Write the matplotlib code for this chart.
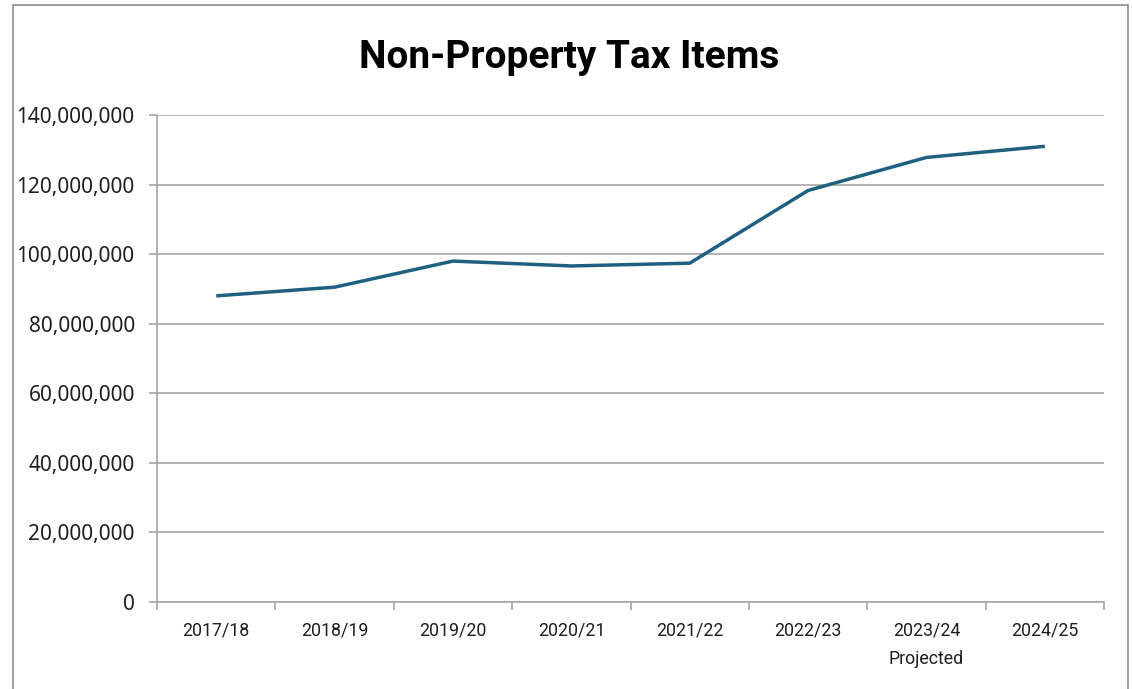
import matplotlib.pyplot as plt
from matplotlib.patches import Rectangle
from matplotlib.ticker import FuncFormatter

# data
years = ['2017/18', '2018/19', '2019/20', '2020/21', '2021/22', '2022/23', '2023/24\nProjected', '2024/25']
revenue = [88.0e6, 90.5e6, 98.0e6, 96.6e6, 97.4e6, 118.3e6, 127.8e6, 131.0e6]
y_ticks = [0, 20e6, 40e6, 60e6, 80e6, 100e6, 120e6, 140e6]

plt.rcParams['font.family'] = ['Roboto', 'DejaVu Sans']

fig = plt.figure(figsize=(11.32, 6.89), dpi=100)
ax = fig.add_axes([0.1387, 0.1263, 0.8366, 0.7068])

x = list(range(len(years)))
ax.plot(x, revenue, color='#1f6080', linewidth=2.5, solid_capstyle='butt')

ax.set_xlim(-0.5, len(years) - 0.5)
ax.set_ylim(0, 140e6)
ax.set_yticks(y_ticks)
ax.yaxis.set_major_formatter(FuncFormatter(lambda v, p: f'{int(v):,}'))
ax.grid(axis='y', color='#a6a6a6', linewidth=1.2)
ax.set_axisbelow(True)

# category boundaries carry the x tick marks, labels sit between them
ax.set_xticks([i - 0.5 for i in range(len(years) + 1)])
ax.set_xticklabels([])
ax.set_xticks(x, minor=True)
ax.set_xticklabels(years, minor=True, fontsize=12.8, color='#1f1f1f', linespacing=1.75)
ax.tick_params(axis='x', which='minor', length=0, pad=14)
ax.tick_params(axis='x', which='major', length=6, color='#a6a6a6', width=1.2)
ax.tick_params(axis='y', length=6, color='#a6a6a6', width=1.2, pad=10,
               labelsize=15, labelcolor='#1f1f1f')
for lbl in ax.get_yticklabels():
    lbl.set_family(['Noto Sans', 'DejaVu Sans'])

for side in ['top', 'right']:
    ax.spines[side].set_visible(False)
for side in ['left', 'bottom']:
    ax.spines[side].set_color('#a6a6a6')
    ax.spines[side].set_linewidth(1.2)

fig.text(569 / 1132, 1 - 57 / 689, 'Non-Property Tax Items', ha='center', va='center',
         fontsize=28, fontweight='bold', color='black')

# outer chart border
fig.patches.append(Rectangle((13 / 1132, -0.05), 1115 / 1132, 1.05 - 5 / 689,
                             transform=fig.transFigure, fill=False,
                             edgecolor='#8c8c8c', linewidth=1.2))

fig.savefig('out.png', dpi=100)
